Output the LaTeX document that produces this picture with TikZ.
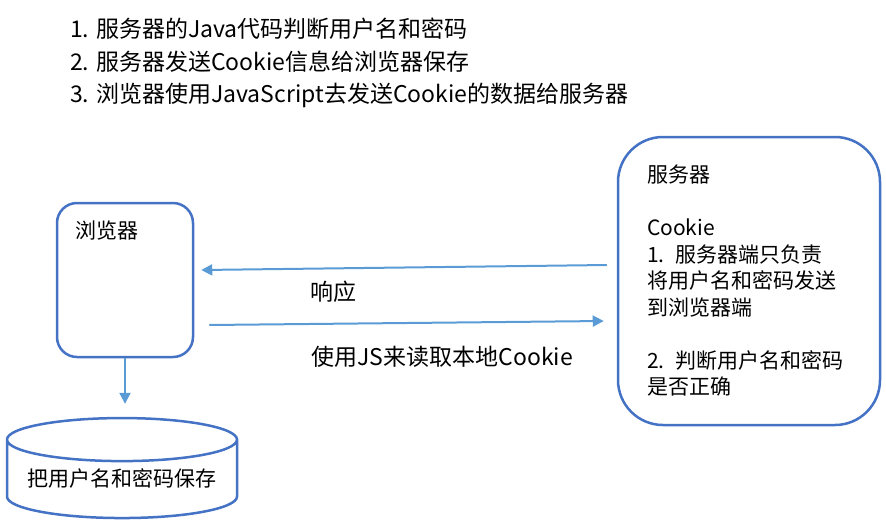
\documentclass[tikz,border=0pt]{standalone}
\usepackage{fontspec}
\setmainfont{Noto Sans CJK SC}
\usetikzlibrary{arrows.meta,shapes.geometric,positioning}
\definecolor{boxblue}{HTML}{4472C4}
\definecolor{lineblue}{HTML}{5B9BD5}
\begin{document}
\begin{tikzpicture}[x=1pt,y=-1pt,
    every node/.style={font=\fontsize{21}{26.5}\selectfont},
    box/.style={draw=boxblue,line width=2.5pt,rounded corners=20pt},
    flow/.style={draw=lineblue,line width=2pt,-{Triangle[length=11pt,width=11pt]}}]
  \useasboundingbox (0,0) rectangle (886,531);
  \node[anchor=north west,align=left,inner sep=0pt,font=\fontsize{23}{32.5}\selectfont] (notes) at (70,18)
    {1. 服务器的Java代码判断用户名和密码\\2. 服务器发送Cookie信息给浏览器保存\\3. 浏览器使用JavaScript去发送Cookie的数据给服务器};
  \node[box,minimum width=136pt,minimum height=154pt,
    label={[anchor=north west,inner sep=0pt,xshift=20pt,yshift=-19pt]north west:浏览器}] (browser) at (125,280) {};
  \node[box,rounded corners=45pt,minimum width=262pt,minimum height=288pt,
    text width=204pt,align=left,inner xsep=29pt] (server) at (749,281)
    {服务器\\[26.5pt]Cookie\\1. 服务器端只负责\\将用户名和密码发送\\到浏览器端\\[26.5pt]2. 判断用户名和密码\\是否正确};
  \node[cylinder,draw=boxblue,line width=2.5pt,shape border rotate=90,aspect=0.22,
    minimum width=230pt,minimum height=100pt] (store) at (122,482) {\raisebox{9pt}{把用户名和密码保存}};
  \node[font=\fontsize{23}{28}\selectfont] (resp) at (333,292) {响应};
  \node[font=\fontsize{23}{28}\selectfont,anchor=west] (read) at (308,357) {使用JS来读取本地Cookie};
  \draw[flow] ([shift={(-10,-16)}]server.west) -- ([shift={(7,-10)}]browser.east);
  \draw[flow] ([shift={(15,45)}]browser.east) -- ([shift={(-13,40)}]server.west);
  \draw[flow] (browser.south) -- ([yshift=13pt]browser.south |- store.north);
\end{tikzpicture}
\end{document}
